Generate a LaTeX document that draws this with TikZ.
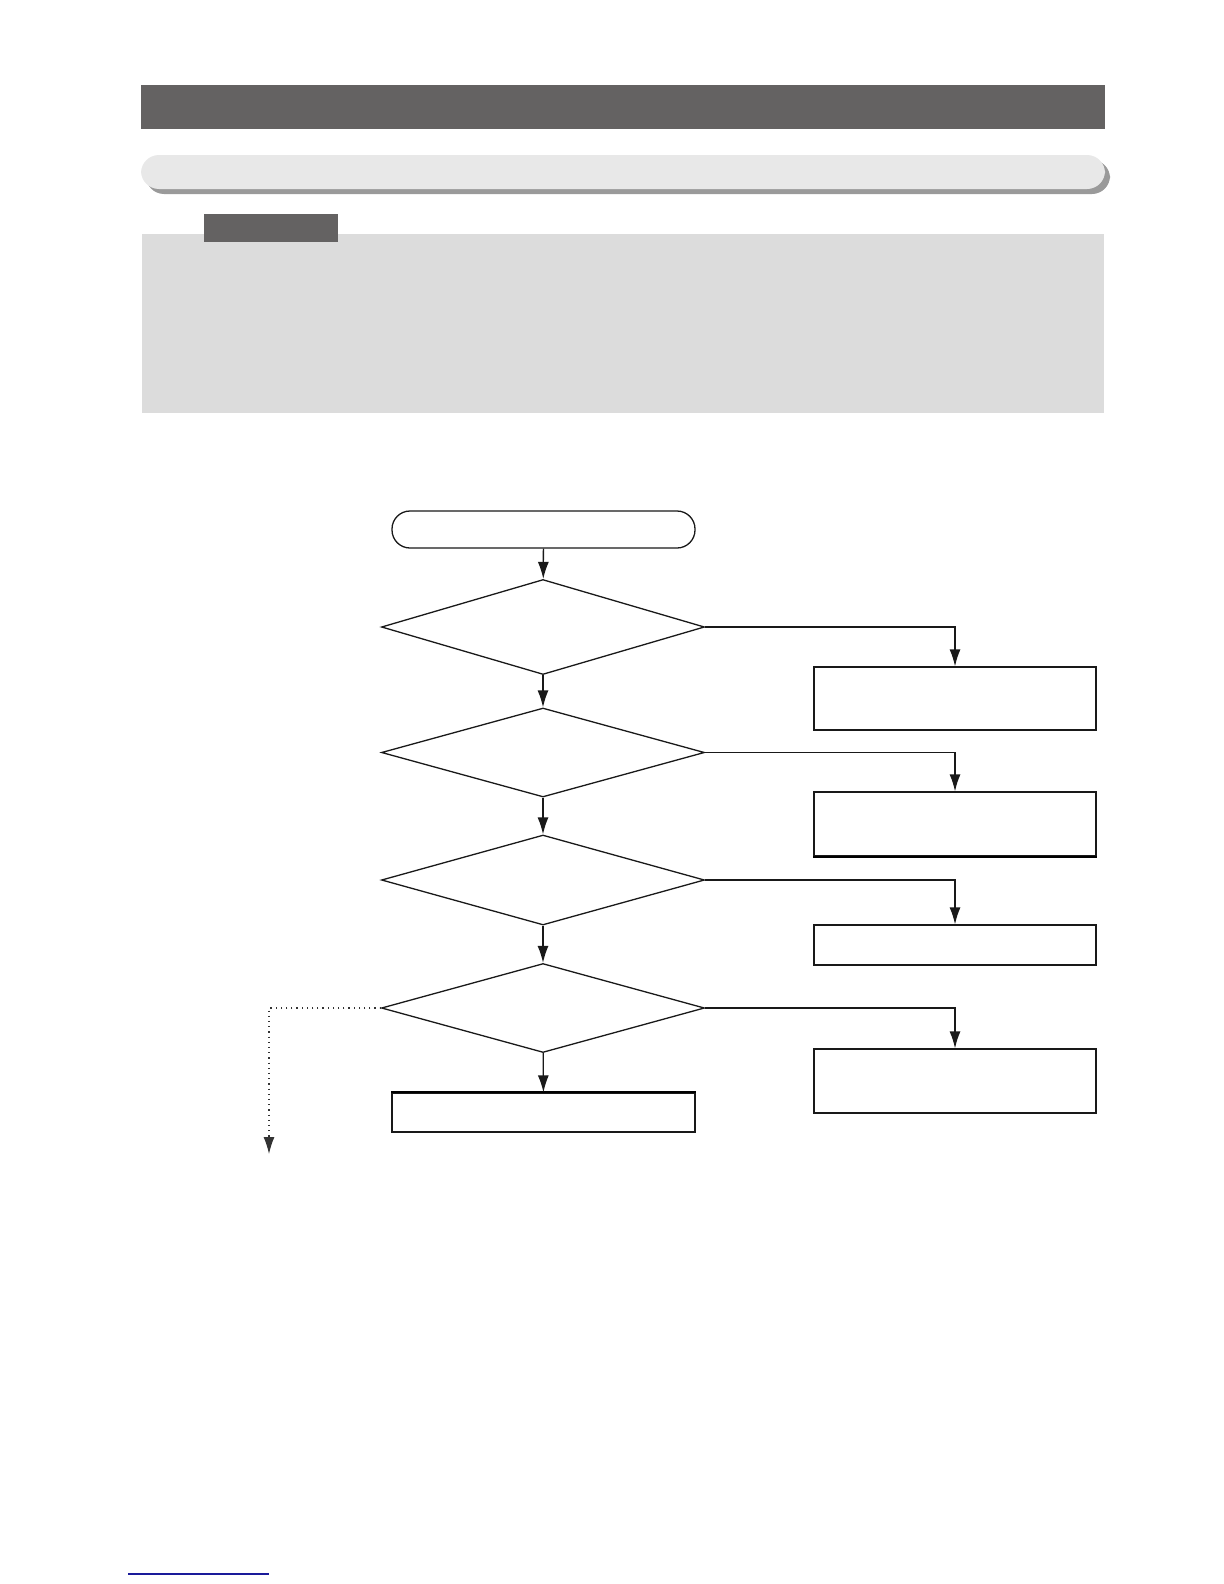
\documentclass[tikz,border=0pt]{standalone}
\usetikzlibrary{shapes.geometric,arrows.meta}
\definecolor{darkbar}{HTML}{646262}
\definecolor{lightbar}{HTML}{E8E8E8}
\definecolor{barshadow}{HTML}{9A9A9A}
\definecolor{panel}{HTML}{DCDCDC}
\definecolor{linkblue}{HTML}{1A1A9A}
\begin{document}
\begin{tikzpicture}[x=0.5pt,y=-0.5pt,
  flow/.style={line width=0.65pt,draw=black!90},
  arr/.style={flow,-{Latex[length=8.5pt,width=5.5pt]}},
  dotarr/.style={line width=0.6pt,draw=black!80,dotted,-{Latex[length=8.5pt,width=5.5pt]}},
  decision/.style={flow,diamond,inner sep=0pt,minimum width=161.5pt,fill=white},
  procbox/.style={flow,rectangle,inner sep=0pt,minimum width=141pt,fill=white},
  termbox/.style={flow,rectangle,rounded corners=9pt,inner sep=0pt,minimum width=151.5pt,minimum height=18.5pt,fill=white}]
\useasboundingbox (0,0) rectangle (1224,1584);
\fill[white] (0,0) rectangle (1224,1584);
% header bars
\fill[darkbar] (141,85) rectangle (1105,129);
\fill[barshadow,rounded corners=9pt] (146,160) rectangle (1110,194);
\fill[lightbar,rounded corners=9pt] (141,155) rectangle (1105,189);
\fill[panel] (142,234) rectangle (1104,413);
\fill[darkbar] (204,214) rectangle (338,242);
% flowchart
\node[termbox] (start) at (543.5,529.5) {};
\node[decision,minimum height=47.5pt] (d1) at (543,627) {};
\node[decision,minimum height=44.5pt] (d2) at (543,752.5) {};
\node[decision,minimum height=45pt] (d3) at (543,880) {};
\node[decision,minimum height=44.5pt] (d4) at (543,1008) {};
\node[procbox,minimum height=31.5pt] (r1) at (955,698.5) {};
\node[procbox,minimum height=32pt] (r2) at (955,824) {};
\node[procbox,minimum height=20pt] (r3) at (955,945) {};
\node[procbox,minimum height=32pt] (r4) at (955,1081) {};
\node[procbox,minimum width=151.5pt,minimum height=19.5pt] (fin) at (543.5,1112.5) {};
\draw[line width=1.1pt] (fin.north west) -- (fin.north east);
\draw[line width=1.1pt] (r2.south west) -- (r2.south east);
\draw[arr] (start) -- (d1);
\draw[arr] (d1) -- (d2);
\draw[arr] (d2) -- (d3);
\draw[arr] (d3) -- (d4);
\draw[arr] (d4) -- (fin);
\draw[arr] (d1.east) -| (r1.north);
\draw[arr] (d2.east) -| (r2.north);
\draw[arr] (d3.east) -| (r3.north);
\draw[arr] (d4.east) -| (r4.north);
\coordinate (out) at (269,1154);
\draw[dotarr] (d4.west) -| (out);
% footer link line
\coordinate (la) at (128,1574);
\coordinate (lb) at (269,1574);
\draw[linkblue,line width=0.6pt] (la) -- (lb);
\end{tikzpicture}
\end{document}
